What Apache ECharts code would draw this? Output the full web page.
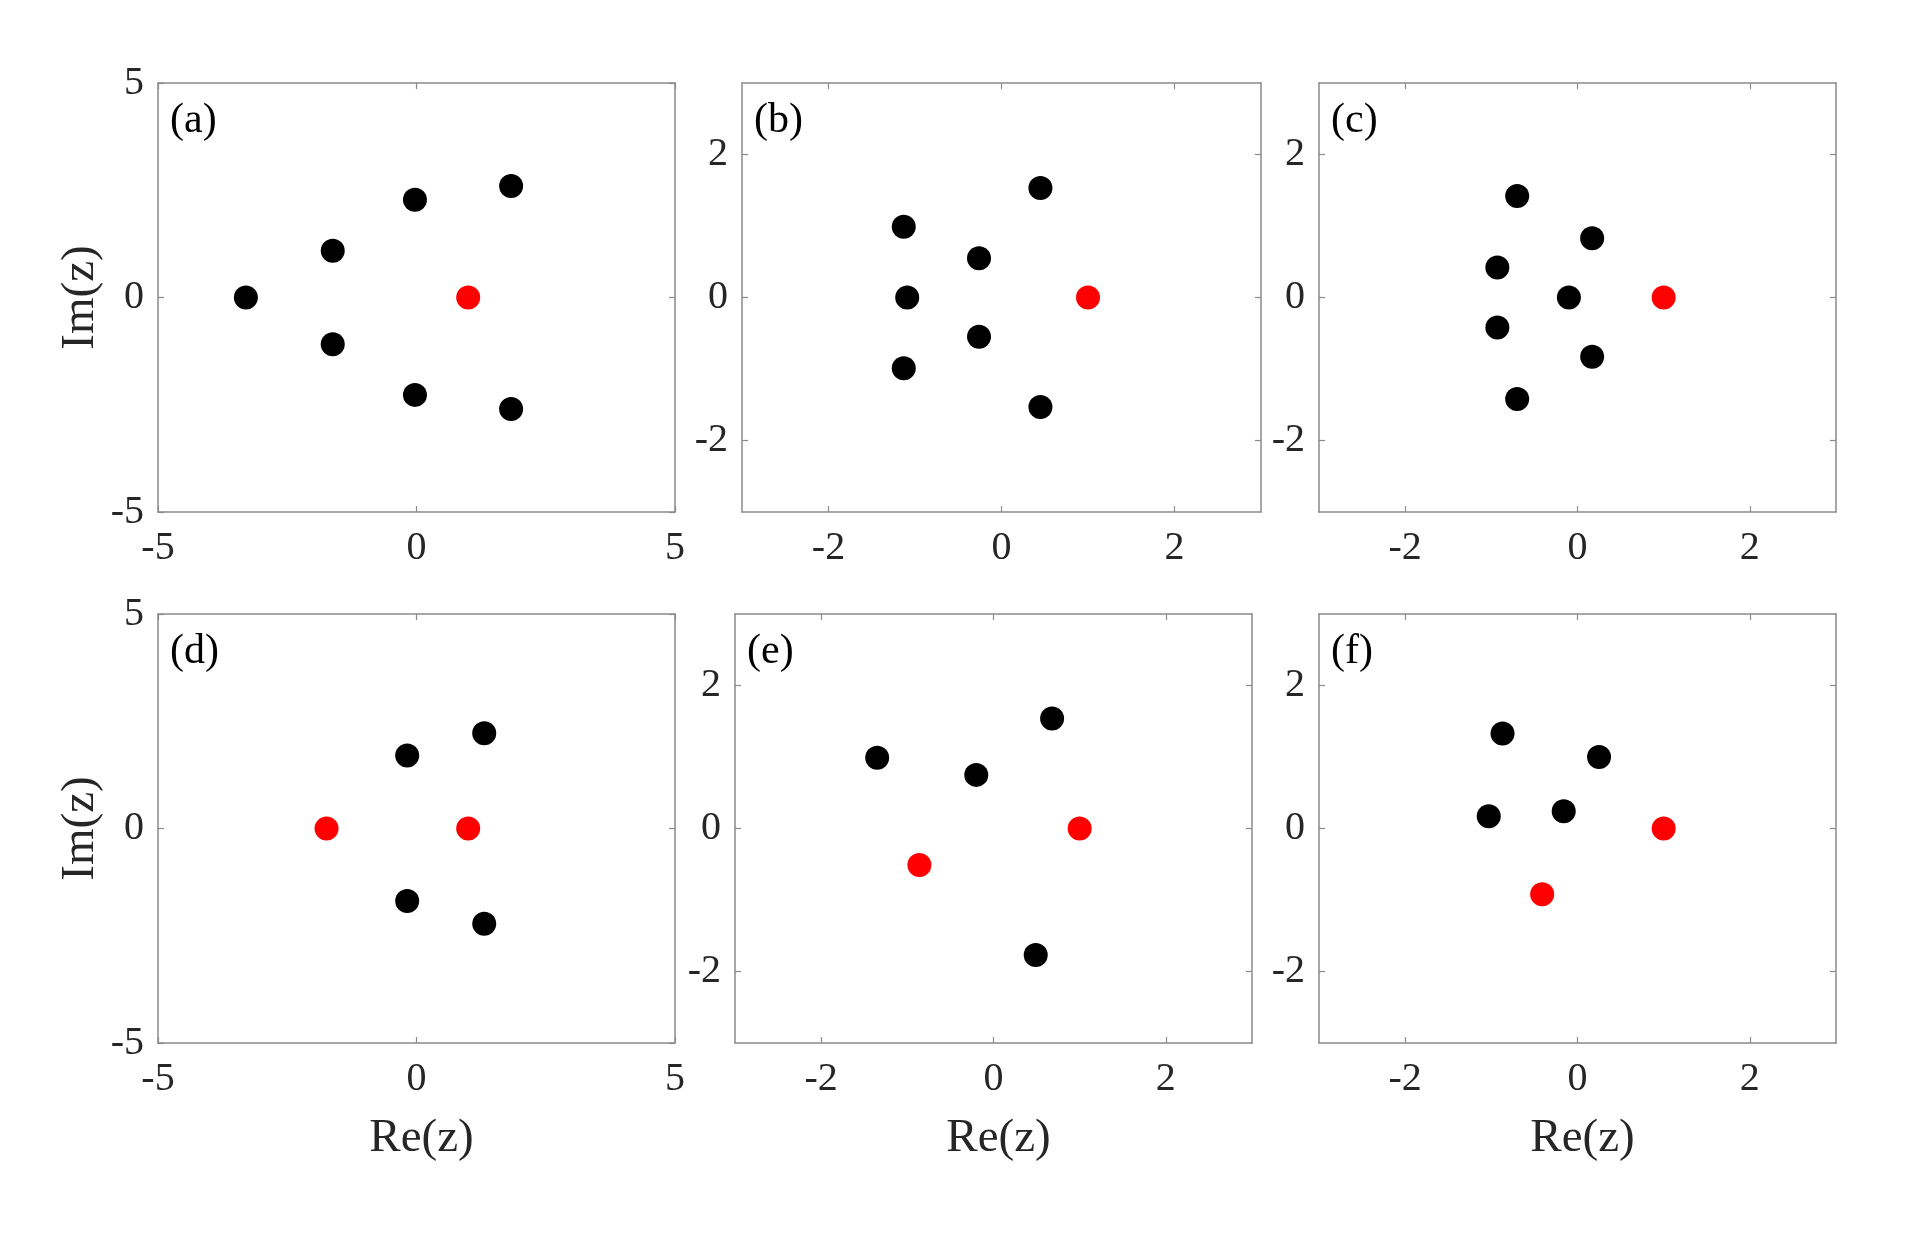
<!DOCTYPE html>
<html>
<head>
<meta charset="utf-8">
<script src="https://cdn.jsdelivr.net/npm/echarts@6/dist/echarts.min.js"></script>
<style>
  html, body { margin: 0; padding: 0; background: #fff; }
  #chart { width: 1920px; height: 1247px; }
</style>
</head>
<body>
<div id="chart"></div>
<script>
var myChart = echarts.init(document.getElementById('chart'));

// panel labels
var panelLabels = ['(a)', '(b)', '(c)', '(d)', '(e)', '(f)'];

// axis ranges and tick labels
var rangeWide = [-5, 5];
var rangeNarrow = [-3, 3];
var ticksWide = [-5, 0, 5];
var ticksNarrow = [-2, 0, 2];

// black points [Re, Im]
var blackA = [[-3.30, 0], [-1.62, 1.09], [-1.62, -1.09], [-0.03, 2.28], [-0.03, -2.27], [1.83, 2.60], [1.83, -2.60]];
var blackB = [[-1.13, 0.99], [-1.09, 0], [-1.13, -0.99], [-0.26, 0.55], [-0.26, -0.55], [0.45, 1.53], [0.45, -1.53]];
var blackC = [[-0.70, 1.42], [-0.70, -1.42], [-0.93, 0.42], [-0.93, -0.42], [-0.10, 0], [0.17, 0.83], [0.17, -0.83]];
var blackD = [[-0.18, 1.70], [-0.18, -1.69], [1.31, 2.22], [1.31, -2.22]];
var blackE = [[-1.35, 0.99], [-0.20, 0.75], [0.68, 1.54], [0.49, -1.77]];
var blackF = [[-0.87, 1.33], [0.25, 1.00], [-1.03, 0.17], [-0.16, 0.24]];

// red points [Re, Im]
var redA = [[1.0, 0]];
var redB = [[1.0, 0]];
var redC = [[1.0, 0]];
var redD = [[-1.74, 0], [1.0, 0]];
var redE = [[-0.86, -0.51], [1.0, 0]];
var redF = [[-0.41, -0.92], [1.0, 0]];

var blacks = [blackA, blackB, blackC, blackD, blackE, blackF];
var reds = [redA, redB, redC, redD, redE, redF];
var wide = [true, false, false, true, false, false];
var showYName = [true, false, false, true, false, false];
var showXName = [false, false, false, true, true, true];

var grids = [
    {left: 158, top: 83, width: 517, height: 429},
    {left: 742, top: 83, width: 519, height: 429},
    {left: 1319, top: 83, width: 517, height: 429},
    {left: 158, top: 614, width: 517, height: 429},
    {left: 735, top: 614, width: 517, height: 429},
    {left: 1319, top: 614, width: 517, height: 429}
];

var fontFamily = "'Liberation Serif', 'Times New Roman', serif";
var textColor = '#262626';
var lineColor = '#8a8a8a';

var xAxes = [];
var yAxes = [];
var series = [];
var titles = [];

for (var i = 0; i < 6; i++) {
    var range = wide[i] ? rangeWide : rangeNarrow;
    var ticks = wide[i] ? ticksWide : ticksNarrow;

    var baseAxis = function (pos, showLabel) {
        return {
            type: 'value',
            gridIndex: i,
            position: pos,
            min: range[0],
            max: range[1],
            splitLine: {show: false},
            axisLine: {show: true, onZero: false, lineStyle: {color: lineColor, width: 1.5}},
            axisTick: {show: true, inside: true, length: 6, customValues: ticks,
                lineStyle: {color: lineColor, width: 1.2}},
            axisLabel: {show: showLabel, customValues: ticks, color: textColor,
                fontFamily: fontFamily, fontSize: 40,
                margin: (pos === 'bottom' ? 16 : 14)}
        };
    };

    var xb = baseAxis('bottom', true);
    if (showXName[i]) {
        xb.name = 'Re(z)';
        xb.nameLocation = 'middle';
        xb.nameGap = 72;
        xb.nameTextStyle = {color: textColor, fontFamily: fontFamily, fontSize: 47, padding: [0, 0, 0, 10]};
    }
    var xt = baseAxis('top', false);
    var yl = baseAxis('left', true);
    if (showYName[i]) {
        yl.name = 'Im(z)';
        yl.nameLocation = 'middle';
        yl.nameGap = 54;
        yl.nameTextStyle = {color: textColor, fontFamily: fontFamily, fontSize: 47};
    }
    var yr = baseAxis('right', false);

    xAxes.push(xb);
    yAxes.push(yl);
    xAxes.push(xt);
    yAxes.push(yr);

    series.push({
        type: 'scatter',
        xAxisIndex: i * 2,
        yAxisIndex: i * 2,
        data: blacks[i],
        symbol: 'circle',
        symbolSize: 24,
        itemStyle: {color: '#000000', opacity: 1},
        silent: true
    });
    series.push({
        type: 'scatter',
        xAxisIndex: i * 2,
        yAxisIndex: i * 2,
        data: reds[i],
        symbol: 'circle',
        symbolSize: 24,
        itemStyle: {color: '#ff0000', opacity: 1},
        silent: true
    });

    titles.push({
        text: panelLabels[i],
        left: grids[i].left + 12,
        top: grids[i].top + 17,
        padding: 0,
        textStyle: {color: '#000', fontFamily: fontFamily, fontSize: 42, fontWeight: 'normal'}
    });
}

myChart.setOption({
    backgroundColor: '#ffffff',
    animation: false,
    title: titles,
    grid: grids,
    xAxis: xAxes,
    yAxis: yAxes,
    series: series
});
</script>
</body>
</html>
